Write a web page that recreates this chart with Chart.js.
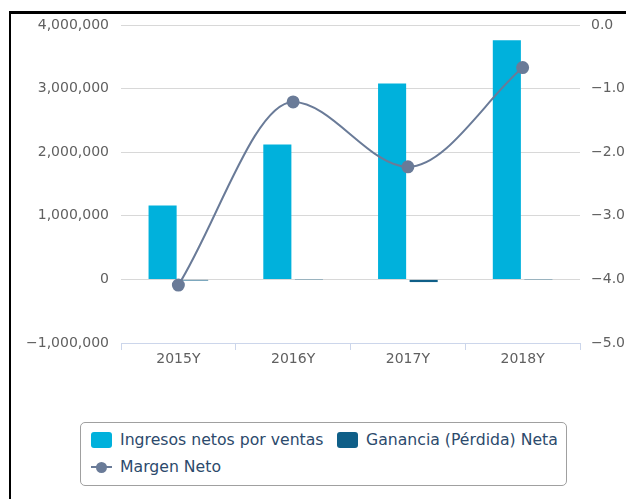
<!DOCTYPE html>
<html>
<head>
<meta charset="utf-8">
<script src="https://cdn.jsdelivr.net/npm/chart.js@4/dist/chart.umd.min.js"></script>
<style>
  body { margin: 0; background: #fff; font-family: "DejaVu Sans", sans-serif; }
  #marco { position: absolute; left: 9px; top: 11px; width: 700px; height: 600px;
           border-top: 3px solid #000; border-left: 2px solid #000; }
  #grafico { position: absolute; left: 0; top: 0; }
  #leyenda { position: absolute; left: 80px; top: 422px; width: 485px; height: 62px;
             border: 1px solid #a0a0a0; border-radius: 5px; box-sizing: content-box;
             color: #2c4a6c; font-size: 15.7px; }
  .item { position: absolute; white-space: nowrap; line-height: 18px; }
  .caja { display: inline-block; width: 21px; height: 16px; border-radius: 3px;
          vertical-align: -3px; margin-right: 8px; }
  .linea { display: inline-block; position: relative; width: 21px; height: 16px;
           vertical-align: -3px; margin-right: 8px; }
  .linea i { position: absolute; left: 0; top: 7px; width: 21px; height: 2px; }
  .linea b { position: absolute; left: 5px; top: 3px; width: 11px; height: 11px; border-radius: 50%; }
</style>
</head>
<body>
<div id="marco"></div>
<canvas id="grafico" width="626" height="380"></canvas>
<div id="leyenda"></div>
<script>
// Datos
const categorias = ['2015Y', '2016Y', '2017Y', '2018Y'];
const ingresos = [1160000, 2120000, 3080000, 3760000];
const ganancia = [-18000, -3000, -42000, -3000];
const margen = [-4.09, -1.21, -2.23, -0.67];

const colores = { ingresos: '#00b1dc', ganancia: '#0f5f88', margen: '#6a7b98' };
const menos = (s) => s.replace('-', '\u2212');
const fuente = { family: '"DejaVu Sans", sans-serif', size: 14 };

const chart = new Chart(document.getElementById('grafico'), {
    type: 'bar',
    data: {
        labels: categorias,
        datasets: [
            {
                label: 'Ingresos netos por ventas',
                data: ingresos,
                backgroundColor: colores.ingresos,
                yAxisID: 'y',
                order: 1,
                barPercentage: 0.89,
                categoryPercentage: 0.55,
            },
            {
                label: 'Ganancia (Pérdida) Neta',
                data: ganancia,
                backgroundColor: colores.ganancia,
                yAxisID: 'y',
                order: 1,
                barPercentage: 0.89,
                categoryPercentage: 0.55,
            },
            {
                type: 'line',
                label: 'Margen Neto',
                data: margen,
                borderColor: colores.margen,
                backgroundColor: colores.margen,
                pointBackgroundColor: colores.margen,
                pointBorderColor: colores.margen,
                borderWidth: 2,
                pointRadius: 5.5,
                cubicInterpolationMode: 'monotone',
                yAxisID: 'y1',
                order: 0,
            },
        ],
    },
    options: {
        responsive: false,
        animation: false,
        layout: { padding: { top: 25, bottom: 7, left: 0, right: 0 } },
        plugins: { legend: { display: false }, tooltip: { enabled: false } },
        scales: {
            x: {
                offset: true,
                grid: { offset: true, drawOnChartArea: false, tickLength: 7, color: '#ccd6eb' },
                border: { color: '#ccd6eb' },
                ticks: { color: '#606060', font: fuente, padding: 1 },
                afterFit: (s) => { s.height = 30; },
            },
            y: {
                position: 'left',
                min: -1000000,
                max: 4000000,
                grid: { color: '#d8d8d8', drawTicks: false },
                border: { display: false },
                ticks: {
                    stepSize: 1000000,
                    padding: 12,
                    color: '#606060',
                    font: fuente,
                    callback: (v) => menos(v.toLocaleString('en-US')),
                },
                afterFit: (s) => { s.width = 121; },
            },
            y1: {
                position: 'right',
                min: -5,
                max: 0,
                grid: { drawOnChartArea: false, drawTicks: false },
                border: { display: false },
                ticks: {
                    stepSize: 1,
                    padding: 11,
                    color: '#606060',
                    font: fuente,
                    callback: (v) => menos(v.toFixed(1)),
                },
                afterFit: (s) => { s.width = 46; },
            },
        },
    },
});

// Leyenda en HTML con el recuadro redondeado
const leyenda = document.getElementById('leyenda');
const posiciones = [[10, 8], [256, 8], [10, 35]];
chart.data.datasets.forEach((ds, i) => {
    const item = document.createElement('div');
    item.className = 'item';
    item.style.left = posiciones[i][0] + 'px';
    item.style.top = posiciones[i][1] + 'px';
    const simbolo = ds.type === 'line'
        ? `<span class="linea"><i style="background:${ds.borderColor}"></i><b style="background:${ds.borderColor}"></b></span>`
        : `<span class="caja" style="background:${ds.backgroundColor}"></span>`;
    item.innerHTML = simbolo + ds.label;
    leyenda.appendChild(item);
});
</script>
</body>
</html>
